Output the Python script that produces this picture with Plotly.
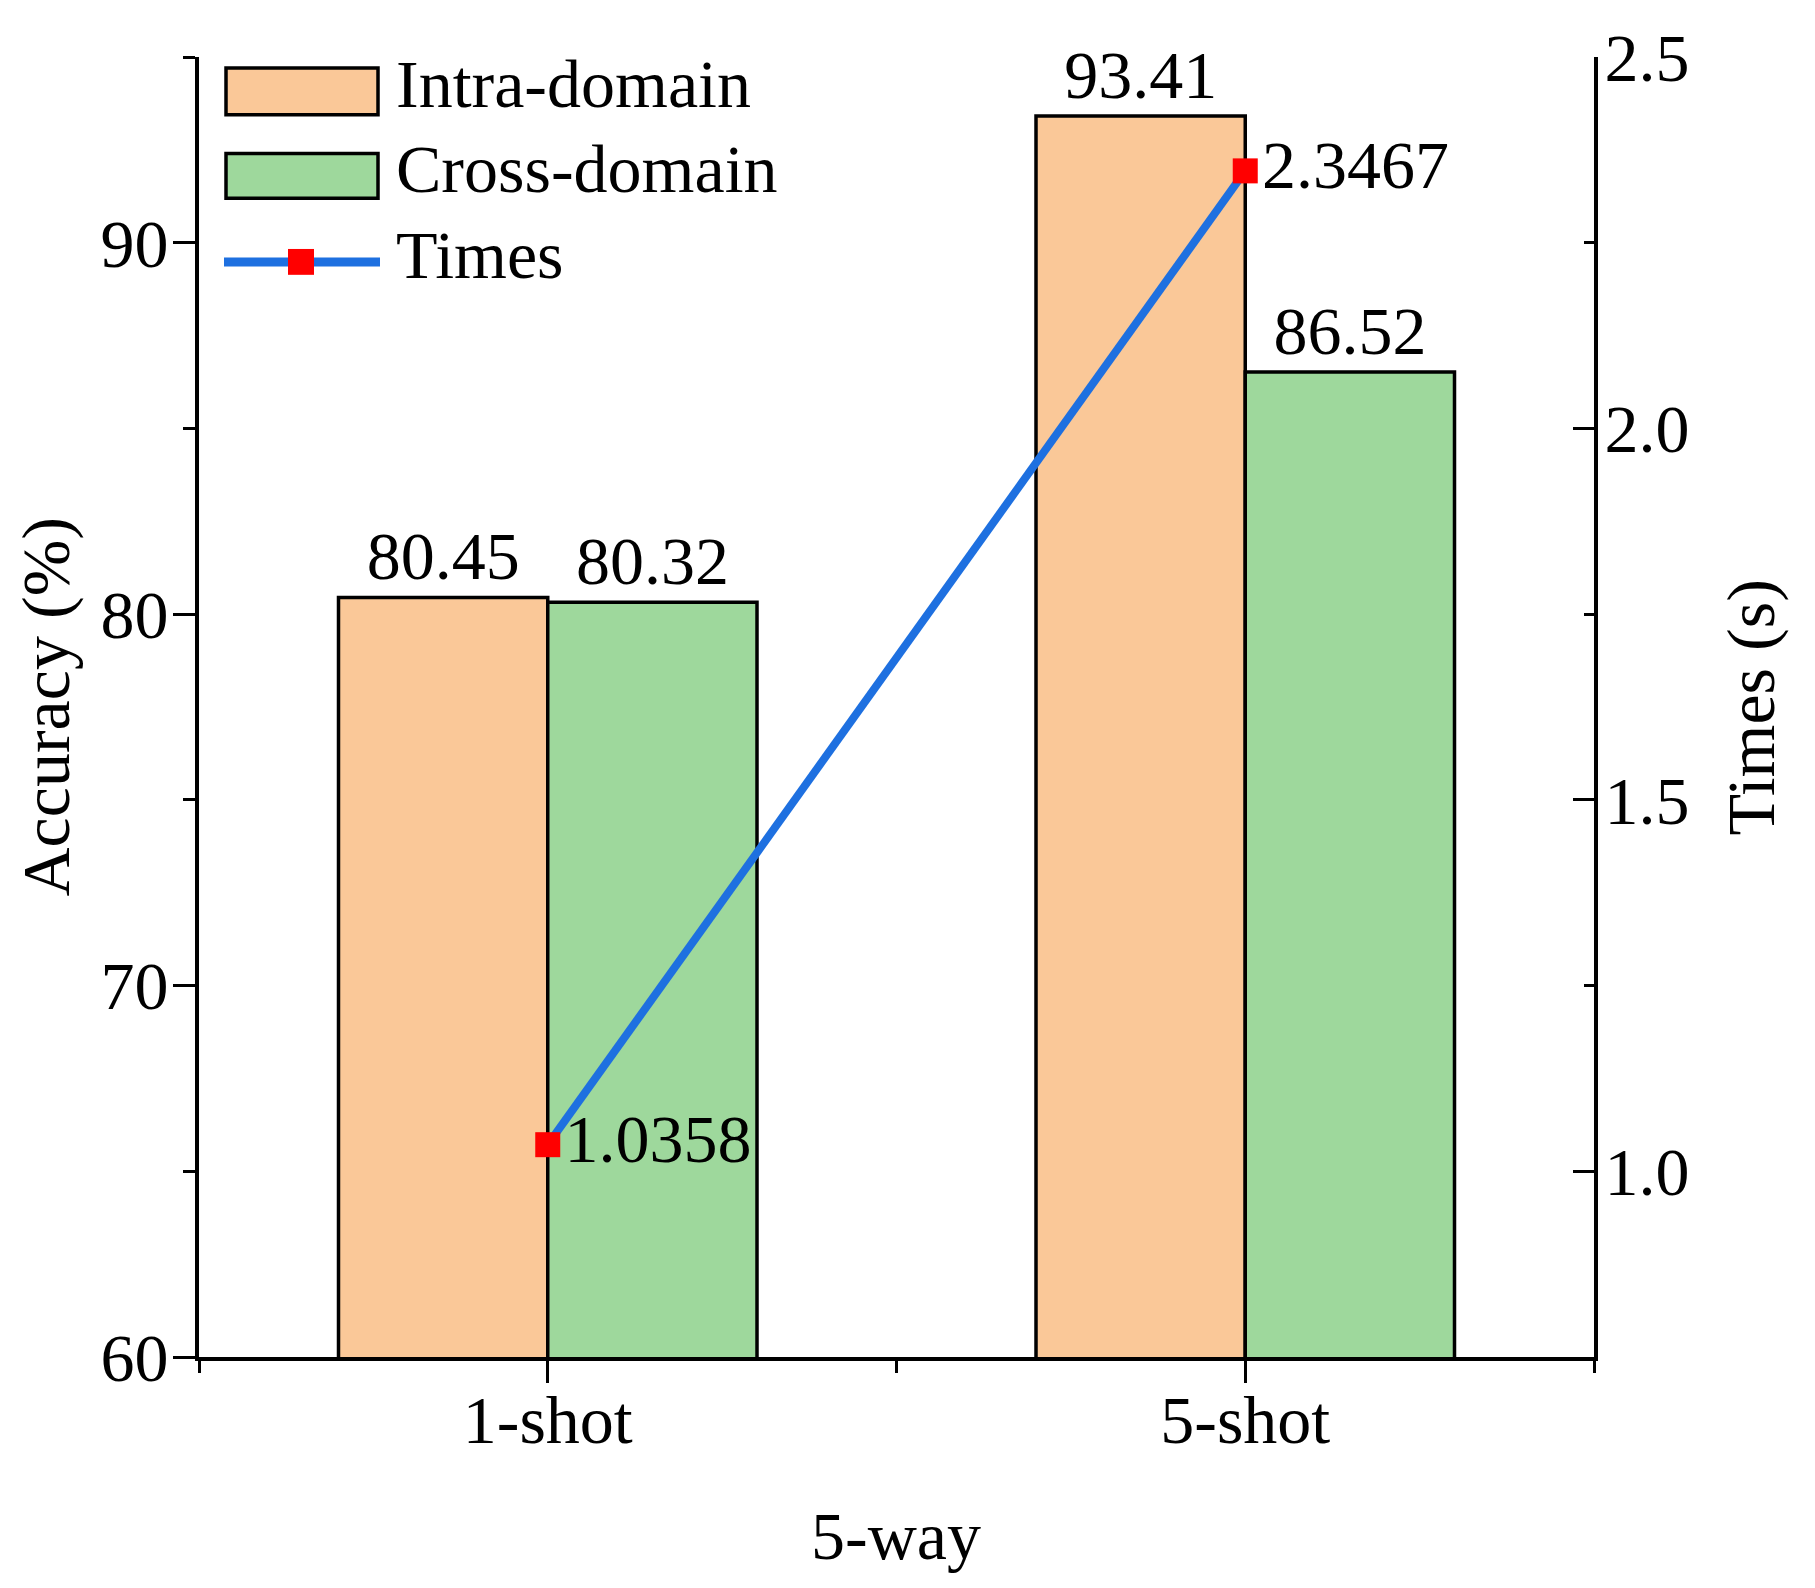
import plotly.graph_objects as go

# ---------------- data ----------------
categories = ["1-shot", "5-shot"]
intra_domain = [80.45, 93.41]
cross_domain = [80.32, 86.52]
times_s = [1.0358, 2.3467]
acc_ticks = [60, 70, 80, 90]
time_ticks = [1.0, 1.5, 2.0, 2.5]
series_names = ["Intra-domain", "Cross-domain", "Times"]

# ---------------- style ----------------
FONT = "Liberation Serif"
FS = 68
ORANGE = "#FAC898"
GREEN = "#9ED89C"
BLUE = "#1E70E0"
RED = "#FF0000"

OFF = 8  # default page body margin
W, H = 1815, 1588
PL, PR, PT, PB = 199, 1594, 50, 1357   # plot area in page pixels
L, T = PL - OFF, PT - OFF
PW, PH = PR - PL, PB - PT
R = W - L - PW
B = H - T - PH

def px(xp):
    return (xp - PL) / PW

def py(yp):
    return (PB - yp) / PH

xpos = list(range(len(categories)))

fig = go.Figure()
fig.add_trace(go.Bar(
    x=xpos, y=intra_domain, name=series_names[0],
    marker=dict(color=ORANGE, line=dict(color="black", width=3.5)),
    text=[f"{v:.2f}" for v in intra_domain], textposition="outside",
    textfont=dict(family=FONT, size=FS, color="black"),
    constraintext="none", cliponaxis=False, showlegend=False,
))
fig.add_trace(go.Bar(
    x=xpos, y=cross_domain, name=series_names[1],
    marker=dict(color=GREEN, line=dict(color="black", width=3.5)),
    text=[f"{v:.2f}" for v in cross_domain], textposition="outside",
    textfont=dict(family=FONT, size=FS, color="black"),
    constraintext="none", cliponaxis=False, showlegend=False,
))
fig.add_trace(go.Scatter(
    x=xpos, y=times_s, name=series_names[2], yaxis="y2",
    mode="lines+markers+text",
    line=dict(color=BLUE, width=8),
    marker=dict(symbol="square", size=25, color=RED),
    text=[f"{v:.4f}" for v in times_s], textposition="middle right",
    textfont=dict(family=FONT, size=FS, color="black"),
    cliponaxis=False, showlegend=False,
))

axis_common = dict(showgrid=False, zeroline=False, showline=True,
                   linecolor="black", linewidth=4, tickcolor="black",
                   tickwidth=3, tickfont=dict(family=FONT, size=FS, color="black"))

fig.update_layout(
    width=W, height=H, autosize=False,
    margin=dict(l=L, r=R, t=T, b=B),
    paper_bgcolor="white", plot_bgcolor="white",
    barmode="group", bargap=0.4, bargroupgap=0,
    font=dict(family=FONT, size=FS, color="black"),
    xaxis=dict(**axis_common, range=[-0.5, 1.5], tickmode="array",
               tickvals=xpos, ticktext=categories, ticks="outside", ticklen=22,
               ticklabelstandoff=-22,
               minor=dict(tickmode="array", tickvals=[-0.5, 0.5, 1.5],
                          ticks="outside", ticklen=12, tickwidth=3, tickcolor="black")),
    yaxis=dict(**axis_common, range=[60, 95], tickmode="array", tickvals=acc_ticks,
               ticks="outside", ticklen=22, ticklabelstandoff=-9,
               minor=dict(tick0=60, dtick=5, ticks="outside", ticklen=12,
                          tickwidth=3, tickcolor="black")),
    yaxis2=dict(**axis_common, overlaying="y", side="right", anchor="x",
                range=[0.75, 2.5], tickmode="array", tickvals=time_ticks,
                ticktext=[f"{v:.1f}" for v in time_ticks],
                ticks="inside", ticklen=21, ticklabelstandoff=-7,
                minor=dict(tick0=0.75, dtick=0.25, ticks="inside", ticklen=10,
                           tickwidth=3, tickcolor="black")),
)

# axis titles
fig.add_annotation(text="Accuracy (%)", xref="paper", yref="paper",
                   x=px(46), y=py(704), textangle=-90, showarrow=False,
                   xanchor="center", yanchor="middle", borderpad=0,
                   font=dict(family=FONT, size=FS, color="black"))
fig.add_annotation(text="Times (s)", xref="paper", yref="paper",
                   x=px(1751), y=py(704), textangle=-90, showarrow=False,
                   xanchor="center", yanchor="middle",
                   font=dict(family=FONT, size=FS, color="black"))
fig.add_annotation(text="5-way", xref="paper", yref="paper",
                   x=px(896), y=py(1537), showarrow=False,
                   xanchor="center", yanchor="middle",
                   font=dict(family=FONT, size=FS, color="black"))

# custom legend
for (y0, y1, col, name) in [(61, 108, ORANGE, series_names[0]),
                            (147, 192, GREEN, series_names[1])]:
    fig.add_shape(type="rect", xref="paper", yref="paper",
                  x0=px(226), x1=px(378), y0=py(y1), y1=py(y0),
                  fillcolor=col, line=dict(color="black", width=3.5))
    fig.add_annotation(text=name, xref="paper", yref="paper",
                       x=px(394), y=py((y0 + y1) / 2 - 7), showarrow=False,
                       xanchor="left", yanchor="middle",
                       font=dict(family=FONT, size=FS, color="black"))
fig.add_shape(type="line", xref="paper", yref="paper",
              x0=px(224), x1=px(380), y0=py(256), y1=py(256),
              line=dict(color=BLUE, width=9))
fig.add_shape(type="rect", xref="paper", yref="paper",
              x0=px(288), x1=px(314), y0=py(269), y1=py(243),
              fillcolor=RED, line=dict(width=0))
fig.add_annotation(text=series_names[2], xref="paper", yref="paper",
                   x=px(394), y=py(256 - 7), showarrow=False,
                   xanchor="left", yanchor="middle",
                   font=dict(family=FONT, size=FS, color="black"))

fig.write_html("out.html")
